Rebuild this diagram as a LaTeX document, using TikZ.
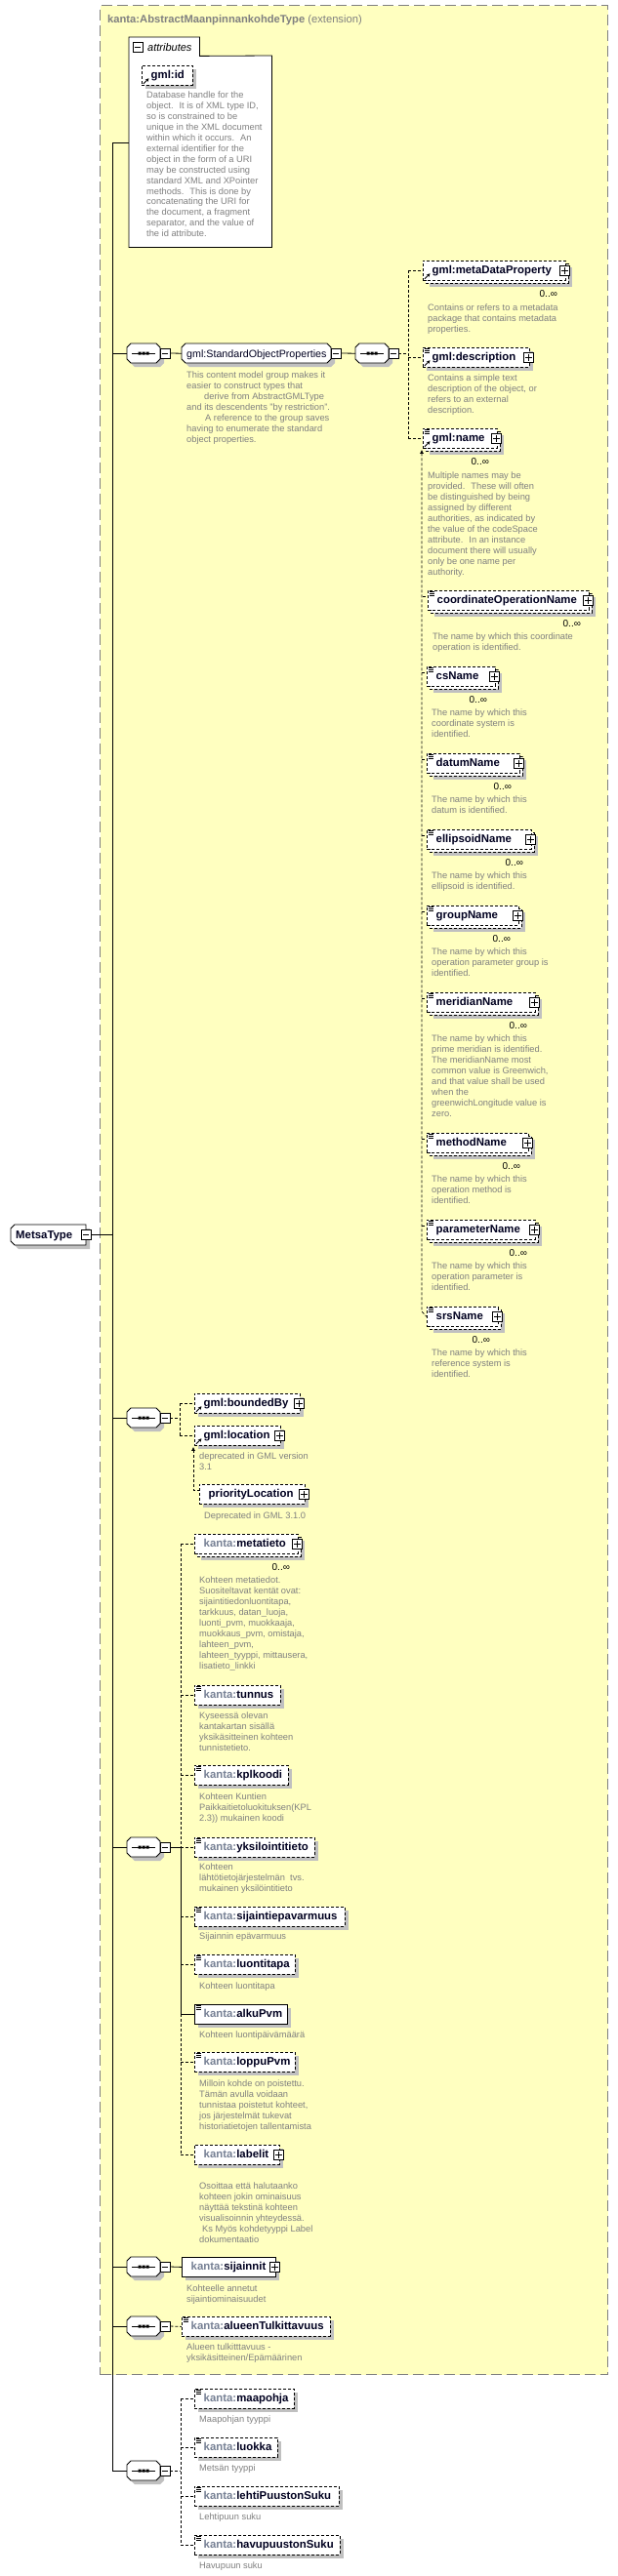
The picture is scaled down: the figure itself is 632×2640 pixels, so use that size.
\documentclass[tikz,border=0pt]{standalone}
\usepackage{fontspec}
\setmainfont{Liberation Sans}
\usetikzlibrary{arrows.meta}
\definecolor{yel}{RGB}{255,255,192}
\definecolor{shg}{RGB}{192,192,192}
\definecolor{dsc}{RGB}{128,128,128}
\definecolor{kan}{RGB}{118,128,148}
\definecolor{bdr}{RGB}{128,128,128}
\definecolor{nm}{RGB}{0,0,32}
\newcommand\elf{\fontsize{11.4}{13}\selectfont\bfseries}
\newcommand\dscf{\fontsize{9.3}{10.9}\selectfont}
\newcommand\K{\textcolor{kan}{kanta:}}
\tikzset{
 lw/.style={line width=0.8pt},
 opt/.style={dash pattern=on 3pt off 2pt},
 conn/.style={line width=0.8pt},
 dconn/.style={line width=0.8pt, dash pattern=on 3pt off 2pt},
 elnode/.style={draw, fill=white, anchor=north west, minimum height=20pt, inner sep=0pt, line width=0.8pt},
 eltext/.style={anchor=base west, inner sep=0pt, font=\elf, text=nm},
 desc/.style={anchor=north west, align=left, font=\dscf, text=dsc, inner sep=0pt},
 mult/.style={anchor=base, inner sep=0pt, font=\fontsize{10}{12}\selectfont, text=black},
 tgl/.style={draw, fill=white, minimum size=10pt, inner sep=0pt, line width=0.8pt},
 hook/.style={anchor=north west, inner sep=0pt, minimum height=20pt},
}
\newcommand\Tg[4]{\node[tgl] (#1) at (#2,#3) {};
 \draw[lw] ([xshift=2pt]#1.west) -- ([xshift=-2pt]#1.east);
 \ifnum#4=1 \draw[lw] ([yshift=-2pt]#1.north) -- ([yshift=2pt]#1.south);\fi}
\newcommand\El[6]{\fill[shg] (#2+4,#3+4) rectangle ++(#4,20);
 \node[elnode,#5,minimum width=#4pt] (#1) at (#2,#3) {};
 \node[eltext] (#1-t) at (#2+9.5,#3+13.5) {#6};}
\newcommand\ElM[6]{\fill[shg] (#2+7,#3+7) rectangle ++(#4,20);
 \draw[fill=white,lw,#5] (#2+3,#3+3) rectangle ++(#4,20);
 \node[elnode,#5,minimum width=#4pt] (#1) at (#2,#3) {};
 \node[eltext] (#1-t) at (#2+9.5,#3+13.5) {#6};}
\newcommand\Pl[1]{\node[tgl] (#1-p) at ([xshift=-1pt]#1.east) {};
 \draw[lw] ([xshift=2pt]#1-p.west) -- ([xshift=-2pt]#1-p.east) ([yshift=-2pt]#1-p.north) -- ([yshift=2pt]#1-p.south);}
\newcommand\Eq[1]{\draw[line width=0.7pt] ([xshift=2pt,yshift=-1.5pt]#1.north west) -- ++(5pt,0pt) ([xshift=2pt,yshift=-3.5pt]#1.north west) -- ++(5pt,0pt) ([xshift=2pt,yshift=-5.5pt]#1.north west) -- ++(5pt,0pt);}
\newcommand\Rf[1]{\draw[line width=0.9pt,-{Stealth[length=3.5pt,width=3.5pt]}] ([xshift=2pt,yshift=2pt]#1.south west) -- ([xshift=7.5pt,yshift=7.5pt]#1.south west);}
\newcommand\Mul[1]{\node[mult] (#1-m) at ([xshift=-18pt,yshift=-16.5pt]#1.south east) {0..∞};}
\newcommand\Dsc[4]{\node[desc] (#1) at (#2,#3-4) {#4};}
\newcommand\OctW[3]{(#1+4,#2) -- (#1+#3-4,#2) -- (#1+#3,#2+4) -- (#1+#3,#2+16) -- (#1+#3-4,#2+20) -- (#1+4,#2+20) -- (#1,#2+16) -- (#1,#2+4) -- cycle}
\newcommand\Seq[3]{\fill[shg] \OctW{#2+4}{#3+4}{34};
 \node[hook,minimum width=34pt] (#1) at (#2,#3) {};
 \draw[fill=white,lw] \OctW{#2}{#3}{34};
 \draw[lw] ([xshift=5pt]#1.west) -- ([xshift=-5pt]#1.east);
 \fill ([xshift=-5.5pt,yshift=-1.5pt]#1.center) rectangle ++(3pt,3pt)
       ([xshift=-1.5pt,yshift=-1.5pt]#1.center) rectangle ++(3pt,3pt)
       ([xshift=2.5pt,yshift=-1.5pt]#1.center) rectangle ++(3pt,3pt);
 \Tg{#1t}{#2+39}{#3+10}{0}}
\begin{document}
\begin{tikzpicture}[x=1pt,y=-1pt]
\useasboundingbox (0,0) rectangle (632,2640);
\fill[white] (0,0) rectangle (632,2640);
\node[draw=bdr, fill=yel, dash pattern=on 11pt off 5pt, line width=1pt, anchor=north west, minimum width=520pt, minimum height=2428pt, inner sep=0pt] (ext) at (102,5) {};
\node[anchor=base west, inner sep=0pt, font=\fontsize{11.2}{13}\selectfont, text=bdr] (hdr) at (110,23) {\textbf{kanta:AbstractMaanpinnankohdeType} (extension)};
% attributes
\node[anchor=north west, minimum width=146pt, minimum height=196pt, inner sep=0pt, fill=white] (attrbody) at (132,57) {};
\node[anchor=north west, minimum width=72pt, minimum height=19pt, inner sep=0pt, fill=white] (attrtab) at (132,38) {};
\draw[lw] (attrtab.south west) -- (attrtab.north west) -- (attrtab.north east) -- (attrtab.south east) -- (attrbody.north east) -- (attrbody.south east) -- (attrbody.south west) -- (attrbody.north west);
\Tg{attrtg}{141}{48.5}{0}
\node[anchor=base west, inner sep=0pt, font=\fontsize{11}{13}\selectfont\itshape] (attrlbl) at (151,52) {attributes};
\El{gid}{145}{67}{52}{opt}{gml:id} \Rf{gid}
\Dsc{gidd}{150}{98}{Database handle for the\\object.~ It is of XML type ID,\\so is constrained to be\\unique in the XML document\\within which it occurs.~ An\\external identifier for the\\object in the form of a URI\\may be constructed using\\standard XML and XPointer\\methods.~ This is done by\\concatenating the URI for\\the document, a fragment\\separator, and the value of\\the id attribute.}
% MetsaType
\fill[shg] (19,1259) -- (92,1259) -- (92,1280) -- (19,1280) -- (15,1276) -- (15,1263) -- cycle;
\node[hook, minimum width=77pt, minimum height=21pt] (mt) at (11,1255) {};
\draw[fill=white,lw] (15,1255) -- (88,1255) -- (88,1276) -- (15,1276) -- (11,1272) -- (11,1259) -- cycle;
\node[eltext] (mt-t) at (16,1269) {MetsaType};
\Tg{mtt}{88}{1265.5}{0}
% standard object properties
\Seq{sA}{130}{352}
\fill[shg] \OctW{190}{356}{153};
\node[hook, minimum width=153pt] (grp) at (186,352) {};
\draw[fill=white,lw] \OctW{186}{352}{153};
\node[anchor=base west, inner sep=0pt, font=\fontsize{10.7}{12}\selectfont, text=nm] (grp-t) at (191,366.5) {gml:StandardObjectProperties};
\Tg{grpt}{344}{362}{0}
\Dsc{grpd}{191}{385}{This content model group makes it\\easier to construct types that\\\hspace*{18pt}derive from AbstractGMLType\\and its descendents "by restriction".\\\hspace*{19pt}A reference to the group saves\\having to enumerate the standard\\object properties.}
\Seq{sB}{364}{352}
\ElM{meta}{433}{267}{146}{opt}{gml:metaDataProperty} \Pl{meta} \Rf{meta} \Mul{meta}
\Dsc{metad}{438}{316}{Contains or refers to a metadata\\package that contains metadata\\properties.}
\El{descr}{433}{356}{109}{opt}{gml:description} \Pl{descr} \Eq{descr} \Rf{descr}
\Dsc{descrd}{438}{388}{Contains a simple text\\description of the object, or\\refers to an external\\description.}
\ElM{gname}{433}{439}{76}{opt}{gml:name} \Pl{gname} \Eq{gname} \Rf{gname} \Mul{gname}
\Dsc{gnamed}{438}{488}{Multiple names may be\\provided.~ These will often\\be distinguished by being\\assigned by different\\authorities, as indicated by\\the value of the codeSpace\\attribute.~ In an instance\\document there will usually\\only be one name per\\authority.}
\ElM{coop}{438}{605}{165}{opt}{coordinateOperationName} \Pl{coop} \Eq{coop} \Mul{coop}
\Dsc{coopd}{443}{653}{The name by which this coordinate\\operation is identified.}
\ElM{csn}{437}{683}{70}{opt}{csName} \Pl{csn} \Eq{csn} \Mul{csn}
\Dsc{csnd}{442}{731}{The name by which this\\coordinate system is\\identified.}
\ElM{dat}{437}{772}{95}{opt}{datumName} \Pl{dat} \Eq{dat} \Mul{dat}
\Dsc{datd}{442}{820}{The name by which this\\datum is identified.}
\ElM{ell}{437}{850}{107}{opt}{ellipsoidName} \Pl{ell} \Eq{ell} \Mul{ell}
\Dsc{elld}{442}{898}{The name by which this\\ellipsoid is identified.}
\ElM{grn}{437}{928}{94}{opt}{groupName} \Pl{grn} \Eq{grn} \Mul{grn}
\Dsc{grnd}{442}{976}{The name by which this\\operation parameter group is\\identified.}
\ElM{mer}{437}{1017}{111}{opt}{meridianName} \Pl{mer} \Eq{mer} \Mul{mer}
\Dsc{merd}{442}{1065}{The name by which this\\prime meridian is identified.\\The meridianName most\\common value is Greenwich,\\and that value shall be used\\when the\\greenwichLongitude value is\\zero.}
\ElM{met}{437}{1161}{104}{opt}{methodName} \Pl{met} \Eq{met} \Mul{met}
\Dsc{metd}{442}{1209}{The name by which this\\operation method is\\identified.}
\ElM{par}{437}{1250}{111}{opt}{parameterName} \Pl{par} \Eq{par} \Mul{par}
\Dsc{pard}{442}{1298}{The name by which this\\operation parameter is\\identified.}
\ElM{srs}{437}{1339}{73}{opt}{srsName} \Pl{srs} \Eq{srs} \Mul{srs}
\Dsc{srsd}{442}{1387}{The name by which this\\reference system is\\identified.}
% boundedBy / location
\Seq{sBB}{130}{1443}
\El{bby}{199}{1428}{108}{opt}{gml:boundedBy} \Pl{bby} \Rf{bby}
\El{loc}{199}{1461}{88}{opt}{gml:location} \Pl{loc} \Rf{loc}
\Dsc{locd}{204}{1493}{deprecated in GML version\\3.1}
\El{prio}{204}{1521}{108}{opt}{priorityLocation} \Pl{prio}
\Dsc{priod}{209}{1554}{Deprecated in GML 3.1.0}
% kanta sequence
\Seq{sK}{130}{1883}
\ElM{kmeta}{199}{1572}{106}{opt}{\K metatieto} \Pl{kmeta} \Mul{kmeta}
\Dsc{kmetad}{204}{1620}{Kohteen metatiedot.\\Suositeltavat kentät ovat:\\sijaintitiedonluontitapa,\\tarkkuus, datan\_luoja,\\luonti\_pvm, muokkaaja,\\muokkaus\_pvm, omistaja,\\lahteen\_pvm,\\lahteen\_tyyppi, mittausera,\\lisatieto\_linkki}
\El{ktun}{199}{1727}{88}{opt}{\K tunnus} \Eq{ktun}
\Dsc{ktund}{204}{1759}{Kyseessä olevan\\kantakartan sisällä\\yksikäsitteinen kohteen\\tunnistetieto.}
\El{kkpl}{199}{1809}{96}{opt}{\K kplkoodi} \Eq{kkpl}
\Dsc{kkpld}{204}{1842}{Kohteen Kuntien\\Paikkaitietoluokituksen(KPL\\2.3)) mukainen koodi}
\El{kyks}{199}{1883}{123}{opt}{\K yksilointitieto} \Eq{kyks}
\Dsc{kyksd}{204}{1914}{Kohteen\\lähtötietojärjestelmän~ tvs.\\mukainen yksilöintitieto}
\El{ksij}{199}{1954}{154}{opt}{\K sijaintiepavarmuus} \Eq{ksij}
\Dsc{ksijd}{204}{1985}{Sijainnin epävarmuus}
\El{kluo}{199}{2003}{103}{opt}{\K luontitapa} \Eq{kluo}
\Dsc{kluod}{204}{2036}{Kohteen luontitapa}
\El{kalk}{199}{2054}{95}{}{\K alkuPvm} \Eq{kalk}
\Dsc{kalkd}{204}{2086}{Kohteen luontipäivämäärä}
\El{klop}{199}{2103}{103}{opt}{\K loppuPvm} \Eq{klop}
\Dsc{klopd}{204}{2136}{Milloin kohde on poistettu.\\Tämän avulla voidaan\\tunnistaa poistetut kohteet,\\jos järjestelmät tukevat\\historiatietojen tallentamista}
\El{klab}{199}{2198}{87}{opt}{\K labelit} \Pl{klab}
\Dsc{klabd}{204}{2241}{Osoittaa että halutaanko\\kohteen jokin ominaisuus\\näyttää tekstinä kohteen\\visualisoinnin yhteydessä.\\\hspace*{3pt}Ks Myös kohdetyyppi Label\\dokumentaatio}
% sijainnit
\Seq{sS}{130}{2313}
\El{ksijn}{186}{2313}{96}{}{\K sijainnit} \Pl{ksijn}
\Dsc{ksijnd}{191}{2346}{Kohteelle annetut\\sijaintiominaisuudet}
% alueenTulkittavuus
\Seq{sAT}{130}{2374}
\El{kalu}{186}{2374}{152}{opt}{\K alueenTulkittavuus} \Eq{kalu}
\Dsc{kalud}{191}{2406}{Alueen tulkitttavuus -\\yksikäsitteinen/Epämäärinen}
% bottom sequence
\Seq{sBot}{130}{2522}
\El{kmaa}{199}{2448}{102}{opt}{\K maapohja} \Eq{kmaa}
\Dsc{kmaad}{204}{2480}{Maapohjan tyyppi}
\El{kluok}{199}{2498}{85}{opt}{\K luokka} \Eq{kluok}
\Dsc{kluokd}{204}{2530}{Metsän tyyppi}
\El{kleh}{199}{2548}{148}{opt}{\K lehtiPuustonSuku} \Eq{kleh}
\Dsc{klehd}{204}{2580}{Lehtipuun suku}
\El{khav}{199}{2598}{149}{opt}{\K havupuustonSuku} \Eq{khav}
\Dsc{khavd}{204}{2630}{Havupuun suku}
% ---------------- connectors
\coordinate (spT) at (115,146);
\coordinate (spB) at (115,2532);
\draw[conn] (spT) -- (spB);
\draw[conn] (spT) -- (attrbody.west |- spT);
\draw[conn] (mtt.east) -- (mtt.east -| spT);
\foreach \s in {sA,sBB,sK,sS,sAT,sBot} \draw[conn] (\s.west) -- (\s.west -| spT);
\draw[conn] (sAt.east) -- (grp.west);
\draw[conn] (grpt.east) -- (sB.west);
\coordinate (vB) at (418,362);
\draw[dconn] (sBt.east) -- (vB);
\draw[dconn] (vB |- meta.west) -- (vB |- gname.west);
\foreach \n in {meta,descr,gname} \draw[dconn] (vB |- \n.west) -- (\n.west);
\coordinate (subA) at (432,1344);
\draw[dconn,{Latex[length=4pt,width=4pt]}-] ([xshift=-1pt,yshift=-1pt]gname.south west) -- (subA) -- (srs.west);
\foreach \n in {coop,csn,dat,ell,grn,mer,met,par} \draw[dconn] ([xshift=-5pt,yshift=-6pt]\n.north west) -- ([yshift=-6pt]\n.north west);
\coordinate (vBB) at (184,1453);
\draw[dconn] (sBBt.east) -- (vBB);
\draw[dconn] (vBB |- bby.west) -- (vBB |- loc.west);
\foreach \n in {bby,loc} \draw[dconn] (vBB |- \n.west) -- (\n.west);
\coordinate (subB) at (198,1527);
\draw[dconn,{Latex[length=4pt,width=4pt]}-] ([xshift=-1pt,yshift=-1pt]loc.south west) -- (subB) -- ([yshift=-6pt]prio.north west);
\coordinate (vK) at (185,1893);
\draw[conn] (sKt.east) -- (vK);
\draw[dconn] (vK |- kmeta.west) -- (vK);
\draw[conn] (vK) -- (vK |- kalk.west);
\draw[dconn] (vK |- kalk.west) -- (vK |- klab.west);
\foreach \n in {kmeta,ktun,kkpl,kyks,ksij,kluo,klop,klab} \draw[dconn] (vK |- \n.west) -- (\n.west);
\draw[conn] (vK |- kalk.west) -- (kalk.west);
\draw[conn] (sSt.east) -- (ksijn.west);
\draw[dconn] (sATt.east) -- (kalu.west);
\coordinate (vBot) at (185,2532);
\draw[dconn] (sBott.east) -- (vBot);
\draw[dconn] (vBot |- kmaa.west) -- (vBot |- khav.west);
\foreach \n in {kmaa,kluok,kleh,khav} \draw[dconn] (vBot |- \n.west) -- (\n.west);
\end{tikzpicture}
\end{document}
